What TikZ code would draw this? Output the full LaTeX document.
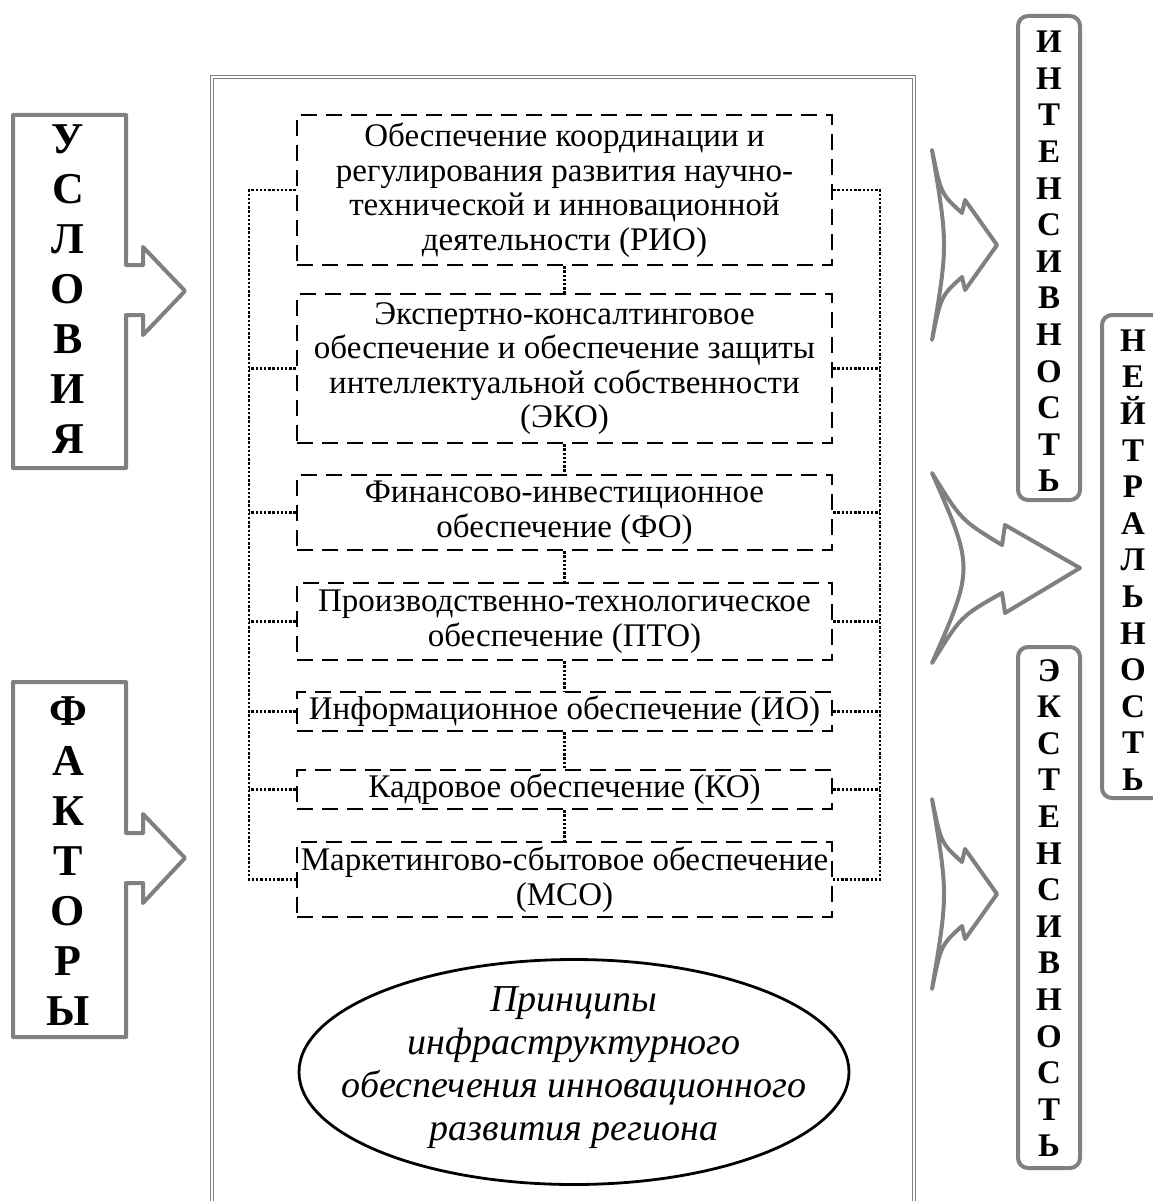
\documentclass[tikz,border=0pt]{standalone}
\usepackage{fontspec}
\setmainfont{Liberation Serif}[BoldFont={Liberation Serif Bold}, ItalicFont={Liberation Serif Italic}]
\usetikzlibrary{shapes.geometric}
\definecolor{fr}{RGB}{128,128,128}
\begin{document}
\begin{tikzpicture}[x=1pt,y=-1pt,
  dbox/.style={draw=black, line width=2.4pt, dash pattern=on 16pt off 9pt, minimum width=535pt, inner sep=0pt, align=center, font=\fontsize{33}{34.5}\selectfont},
  dotline/.style={line width=2.4pt, dash pattern=on 2.4pt off 1.8pt},
  garrow/.style={draw=fr, line width=4pt, line join=round, fill=white},
  rbox/.style={draw=fr, line width=4pt, rounded corners=10pt},
  vlet/.style={align=center, inner sep=0pt, font=\bfseries\fontsize{33}{36.6}\selectfont},
  llet/.style={align=center, inner sep=0pt, font=\bfseries\fontsize{44}{50}\selectfont}
]
\useasboundingbox (0,0) rectangle (1152,1201);
\fill[white] (0,0) rectangle (1152,1201);

% main double frame
\draw[fr, line width=1.3pt, double=white, double distance=2.2pt] (212,1215) -- (212,77) -- (914,77) -- (914,1215);

% left arrows
\draw[garrow] (13,115) -- (126,115) -- (126,265) -- (143,265) -- (143,247) -- (185,291) -- (143,335) -- (143,315) -- (126,315) -- (126,468) -- (13,468) -- cycle;
\node[llet] (usl) at (68,289) {У\\С\\Л\\О\\В\\И\\Я};
\draw[garrow] (13,682) -- (126,682) -- (126,833) -- (143,833) -- (143,814) -- (185,858) -- (143,903) -- (143,883) -- (126,883) -- (126,1037) -- (13,1037) -- cycle;
\node[llet] (fak) at (68,861) {Ф\\А\\К\\Т\\О\\Р\\Ы};

% curved arrows on the right
\foreach \dy in {0,649}{
\draw[garrow] (932,150+\dy) .. controls (941,194+\dy) .. (962,213+\dy) -- (965,200+\dy) -- (997,245+\dy) -- (965,290+\dy) -- (962,277+\dy) .. controls (941,296+\dy) .. (932,340+\dy) .. controls (948,245+\dy) .. cycle;
}
\draw[garrow] (932,473) .. controls (961,520) .. (1002,545) -- (1005,525) -- (1080,568) -- (1005,613) -- (1002,593) .. controls (961,616) .. (932,663) .. controls (974,568) .. cycle;

% right rounded boxes
\draw[rbox] (1018,16) rectangle (1080,500);
\node[vlet] (int) at (1049,261.5) {И\\Н\\Т\\Е\\Н\\С\\И\\В\\Н\\О\\С\\Т\\Ь};
\draw[rbox] (1102,315) rectangle (1170,798);
\node[vlet] (neu) at (1133,560) {Н\\Е\\Й\\Т\\Р\\А\\Л\\Ь\\Н\\О\\С\\Т\\Ь};
\draw[rbox] (1018,647) rectangle (1080,1168);
\node[vlet] (ext) at (1049,908) {Э\\К\\С\\Т\\Е\\Н\\С\\И\\В\\Н\\О\\С\\Т\\Ь};

% dashed boxes
\node[dbox, minimum height=150pt] (b1) at (564.5,190) {Обеспечение координации и\\регулирования развития научно-\\технической и инновационной\\деятельности (РИО)};
\node[dbox, minimum height=149pt] (b2) at (564.5,368.5) {Экспертно-консалтинговое\\обеспечение и обеспечение защиты\\интеллектуальной собственности\\(ЭКО)};
\node[dbox, minimum height=75pt] (b3) at (564.5,512.5) {Финансово-инвестиционное\\обеспечение (ФО)};
\node[dbox, minimum height=77pt] (b4) at (564.5,621.5) {Производственно-технологическое\\обеспечение (ПТО)};
\node[dbox, minimum height=39pt] (b5) at (564.5,711.5) {Информационное обеспечение (ИО)};
\node[dbox, minimum height=39pt] (b6) at (564.5,789.5) {Кадровое обеспечение (КО)};
\node[dbox, minimum height=75pt] (b7) at (564.5,879.5) {Маркетингово-сбытовое обеспечение\\(МСО)};

% dotted connectors
\coordinate (L) at (249,0);
\coordinate (R) at (880,0);
\draw[dotline] (b1.west) -- (b1.west -| L) -- (b7.west -| L) -- (b7.west);
\draw[dotline] (b1.east) -- (b1.east -| R) -- (b7.east -| R) -- (b7.east);
\foreach \b in {b2,b3,b4,b5,b6}{
  \draw[dotline] (\b.west) -- (\b.west -| L);
  \draw[dotline] (\b.east) -- (\b.east -| R);
}
\draw[dotline] (b1.south) -- (b2.north);
\draw[dotline] (b2.south) -- (b3.north);
\draw[dotline] (b3.south) -- (b4.north);
\draw[dotline] (b4.south) -- (b5.north);
\draw[dotline] (b5.south) -- (b6.north);
\draw[dotline] (b6.south) -- (b7.north);

% ellipse
\node[draw=black, line width=2.8pt, ellipse, minimum width=550pt, minimum height=225pt, inner sep=0pt] (el) at (574,1072) {};
\node[align=center, inner sep=0pt, font=\itshape\fontsize{38}{43}\selectfont] (elt) at (574,1068) {Принципы\\инфраструктурного\\обеспечения инновационного\\развития региона};
\end{tikzpicture}
\end{document}
